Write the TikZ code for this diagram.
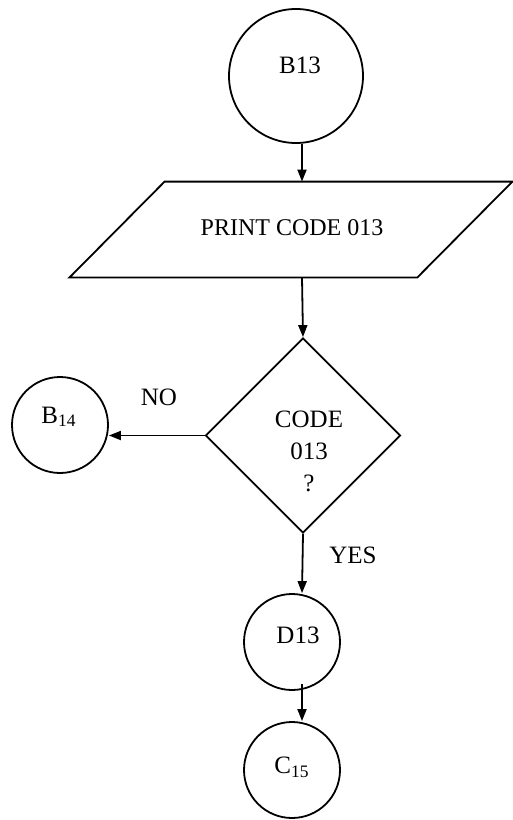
\documentclass[tikz,border=0pt]{standalone}
\usepackage{fontspec}
\setmainfont{Liberation Serif}
\usepackage{tikz}
\usetikzlibrary{arrows.meta,positioning,shapes.geometric,calc}

\tikzset{
  conn/.style={circle, draw, line width=0.9pt, minimum size=48pt, inner sep=0pt},
  arr/.style={-{Triangle[length=6pt,width=4.5pt]}, line width=0.9pt},
  lbl/.style={font=\fontsize{12.5}{16}\selectfont}
}

\begin{document}
\begin{tikzpicture}[x=0.5pt,y=-0.5pt]
\useasboundingbox (0,0) rectangle (513,820);
\coordinate (col) at (302,0);
% connectors and boxes
\node[conn, minimum size=67pt] (b13) at (296,76) {};
\node[lbl] (b13txt) at (300,65) {B13};
\node[minimum width=221pt, minimum height=47.5pt, inner sep=0pt] (print) at (291,229.5) {};
\draw[line width=0.9pt] ([xshift=47.5pt]print.north west) -- (print.north east)
  -- ([xshift=-47.5pt]print.south east) -- (print.south west) -- cycle;
\node[font=\fontsize{12}{14}\selectfont] (printtxt) at (292,228) {PRINT CODE 013};
\node[diamond, draw, line width=0.9pt, minimum width=97.5pt, minimum height=97.5pt, inner sep=0pt] (cond) at (303,435.5) {};
\node[lbl, align=center] (condtxt) at (309,451) {CODE\\013\\?};
\node[conn] (b14) at (60,425) {};
\node[lbl] (b14txt) at (59,417) {B\textsubscript{14}};
\node[conn] (d13) at (292,642) {};
\node[lbl] (d13txt) at (298,635) {D13};
\node[conn] (c15) at (292,770) {};
\node[lbl] (c15txt) at (292,767) {C\textsubscript{15}};
% arrows
\draw[arr] (col |- b13.south) -- (col |- print.north);
\draw[arr] (col |- print.south) -- (cond.north);
\draw[arr] (cond.west) -- (b14.east |- cond.west);
\draw[arr] (cond.south) -- (col |- d13.north);
\draw[arr] ($(col |- d13.south)+(0,-7)$) -- (col |- c15.north);
\node[lbl] (no) at (159,397) {NO};
\node[lbl] (yes) at (353,555) {YES};
\end{tikzpicture}
\end{document}
